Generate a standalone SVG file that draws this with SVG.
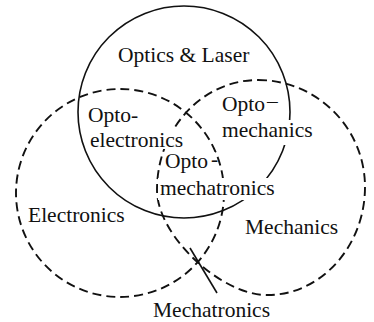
<svg xmlns="http://www.w3.org/2000/svg" width="374" height="322" viewBox="0 0 374 322">
<style>
.solid{fill:none;stroke:#111;stroke-width:1.6}
.dash{fill:none;stroke:#111;stroke-width:1.9;stroke-dasharray:9 5}
.ko{fill:#fff}
text{font-family:"Liberation Serif","Times New Roman",serif;font-size:21.5px;fill:#111}
</style>
<rect width="374" height="322" fill="#fff"/>
<g id="set-electronics">
<circle class="dash" cx="120" cy="193" r="104"/>
</g>
<g id="set-mechanics">
<path class="dash" d="M258,80 C317,80 365,128 365,187 C365,247 320,295 268,295 C222,296 157,236 157,190 C157,129 202,80 258,80 Z"/>
</g>
<g id="set-optics">
<circle class="solid" cx="184" cy="112" r="106"/>
</g>
<g id="connectors">
<line class="solid" x1="190" y1="248" x2="217" y2="293"/>
</g>
<g id="label-optics">
<text x="118" y="62">Optics &amp; Laser</text>
</g>
<g id="label-optoelectronics">
<rect class="ko" x="87" y="130" width="97" height="19"/>
<text x="88" y="122">Opto-</text>
<text x="90" y="147">electronics</text>
</g>
<g id="label-optomechanics">
<rect class="ko" x="220" y="120" width="94" height="25"/>
<text x="222" y="111">Opto<tspan dx="2" dy="-3">–</tspan></text>
<text x="222" y="137">mechanics</text>
</g>
<g id="label-optomechatronics">
<rect class="ko" x="164" y="152" width="51" height="20"/>
<rect class="ko" x="158" y="178" width="121" height="22"/>
<text x="165" y="168">Opto<tspan dx="3" dy="-2">-</tspan></text>
<text x="160" y="195">mechatronics</text>
</g>
<g id="label-electronics">
<text x="28" y="222">Electronics</text>
</g>
<g id="label-mechanics">
<text x="245" y="234">Mechanics</text>
</g>
<g id="label-mechatronics">
<text x="153" y="317">Mechatronics</text>
</g>
</svg>
